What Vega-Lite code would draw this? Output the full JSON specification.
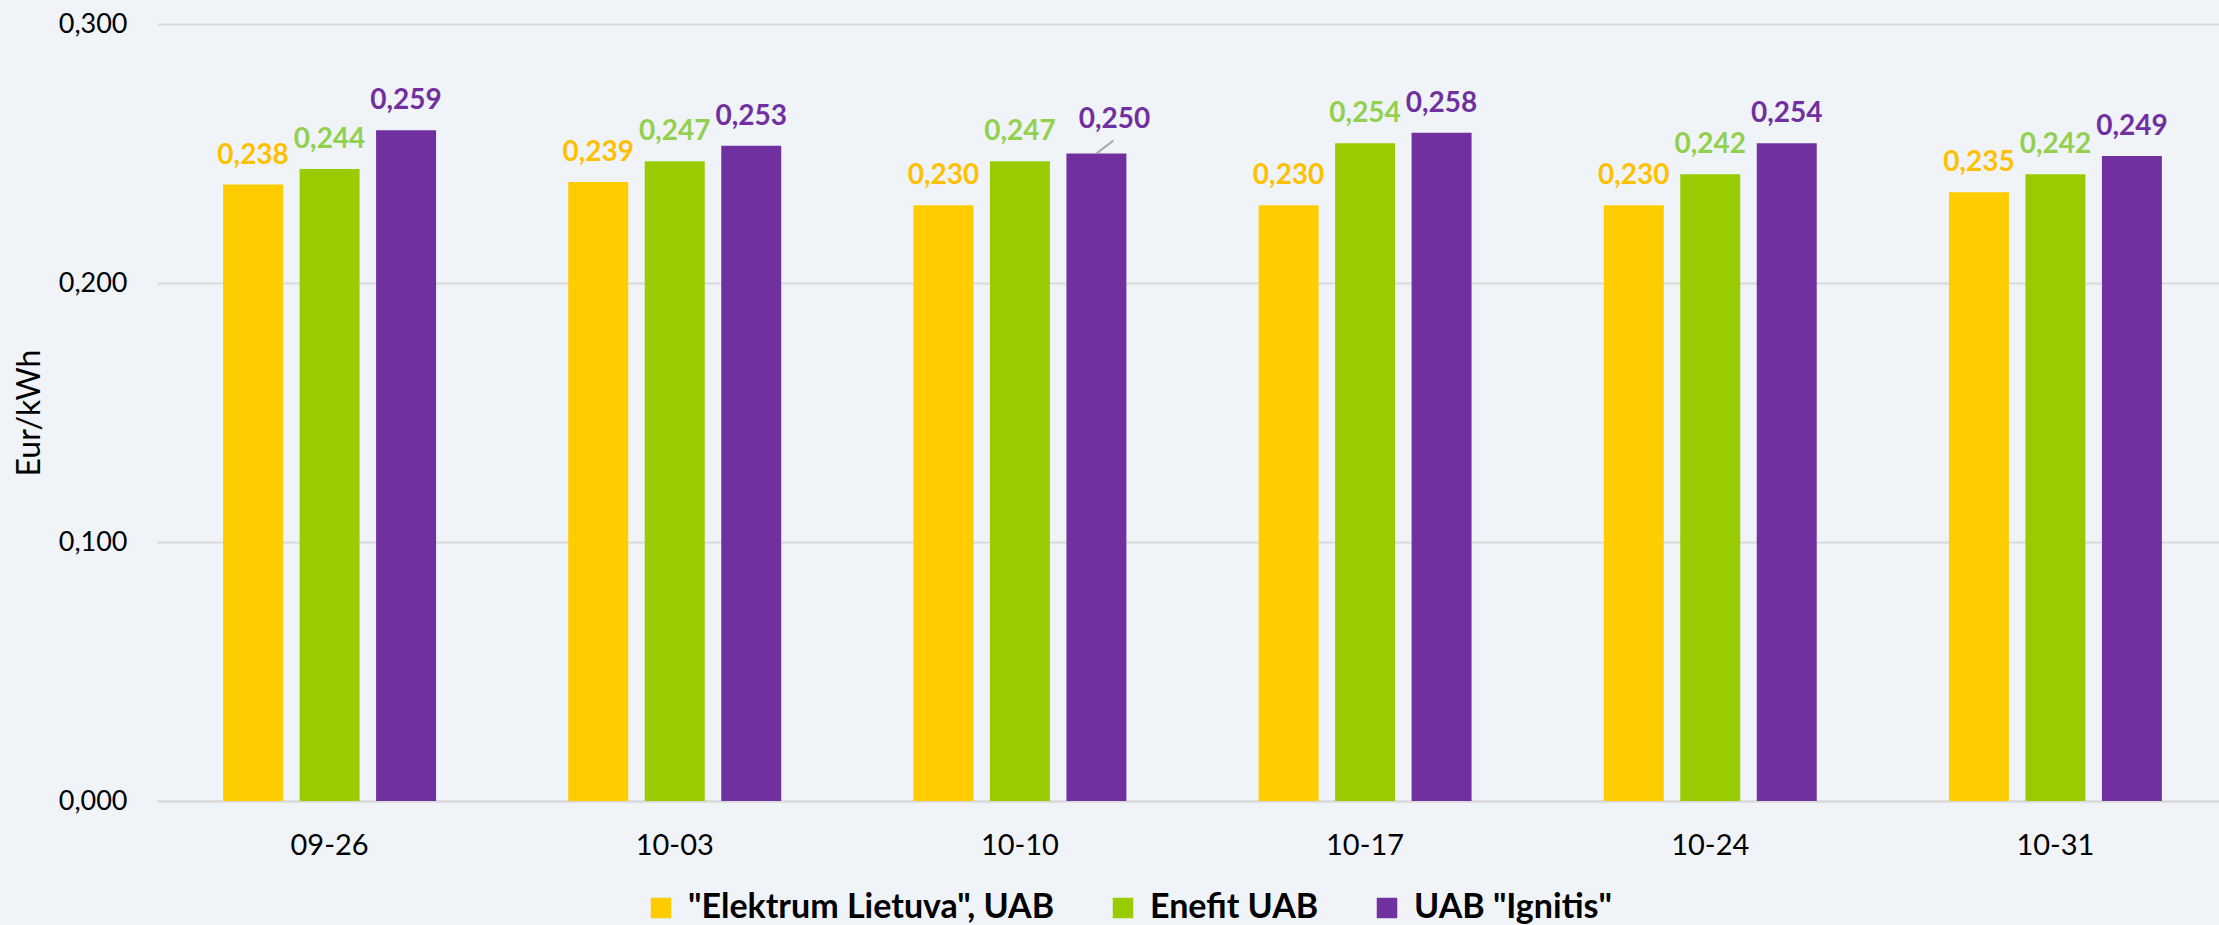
{
  "$schema": "https://vega.github.io/schema/vega-lite/v6.json",
  "width": 2062,
  "height": 777,
  "autosize": {"type": "none"},
  "padding": {"left": 157, "top": 24, "right": 0, "bottom": 124},
  "background": "#F0F4F8",
  "config": {
    "locale": {"number": {"decimal": ",", "thousands": " ", "grouping": [3], "currency": ["", " €"]}},
    "font": "Lato",
    "view": {"stroke": null}
  },
  "data": {
    "values": [
      {"date": "09-26", "company": "\"Elektrum Lietuva\", UAB", "price": 0.238},
      {"date": "09-26", "company": "Enefit UAB", "price": 0.244},
      {"date": "09-26", "company": "UAB \"Ignitis\"", "price": 0.259},
      {"date": "10-03", "company": "\"Elektrum Lietuva\", UAB", "price": 0.239},
      {"date": "10-03", "company": "Enefit UAB", "price": 0.247},
      {"date": "10-03", "company": "UAB \"Ignitis\"", "price": 0.253},
      {"date": "10-10", "company": "\"Elektrum Lietuva\", UAB", "price": 0.230},
      {"date": "10-10", "company": "Enefit UAB", "price": 0.247},
      {"date": "10-10", "company": "UAB \"Ignitis\"", "price": 0.250},
      {"date": "10-17", "company": "\"Elektrum Lietuva\", UAB", "price": 0.230},
      {"date": "10-17", "company": "Enefit UAB", "price": 0.254},
      {"date": "10-17", "company": "UAB \"Ignitis\"", "price": 0.258},
      {"date": "10-24", "company": "\"Elektrum Lietuva\", UAB", "price": 0.230},
      {"date": "10-24", "company": "Enefit UAB", "price": 0.242},
      {"date": "10-24", "company": "UAB \"Ignitis\"", "price": 0.254},
      {"date": "10-31", "company": "\"Elektrum Lietuva\", UAB", "price": 0.235},
      {"date": "10-31", "company": "Enefit UAB", "price": 0.242},
      {"date": "10-31", "company": "UAB \"Ignitis\"", "price": 0.249}
    ]
  },
  "encoding": {
    "x": {
      "field": "date",
      "type": "nominal",
      "sort": null,
      "scale": {"range": [0, 2071], "paddingInner": 0.383, "paddingOuter": 0.1915},
      "axis": {
        "title": null,
        "labelAngle": 0,
        "labelFontSize": 29,
        "labelColor": "#000000",
        "labelPadding": 30,
        "ticks": false,
        "tickSize": 0,
        "domainColor": "#D9D9D9",
        "domainWidth": 2,
        "grid": false
      }
    },
    "xOffset": {
      "field": "company",
      "type": "nominal",
      "sort": ["\"Elektrum Lietuva\", UAB", "Enefit UAB", "UAB \"Ignitis\""],
      "scale": {"paddingInner": 0.216, "paddingOuter": 0}
    },
    "y": {
      "field": "price",
      "type": "quantitative",
      "scale": {"domain": [0, 0.3], "nice": false},
      "axis": {
        "title": "Eur/kWh",
        "titleFontSize": 32,
        "titleFontWeight": "normal",
        "titleColor": "#000000",
        "titlePadding": 12,
        "labelFontSize": 27,
        "labelColor": "#000000",
        "labelPadding": 30,
        "ticks": false,
        "tickSize": 0,
        "domain": false,
        "gridColor": "#D9D9D9",
        "gridWidth": 2,
        "values": [0, 0.1, 0.2, 0.3],
        "format": ".3f"
      }
    }
  },
  "layer": [
    {
      "mark": {"type": "bar"},
      "encoding": {
        "color": {
          "field": "company",
          "type": "nominal",
          "scale": {
            "domain": ["\"Elektrum Lietuva\", UAB", "Enefit UAB", "UAB \"Ignitis\""],
            "range": ["#FFCC00", "#99CC00", "#7030A0"]
          },
          "legend": {
            "title": null,
            "orient": "none",
            "legendX": 487,
            "legendY": 867,
            "direction": "horizontal",
            "labelFontSize": 34,
            "labelFontWeight": "bold",
            "labelColor": "#000000",
            "labelLimit": 0,
            "symbolType": "square",
            "symbolSize": 420,
            "symbolStrokeWidth": 0,
            "labelOffset": 10,
            "columnPadding": 51,
            "padding": 0
          }
        }
      }
    },
    {
      "transform": [{"filter": "!(datum.date == '10-10' && datum.company == 'UAB \"Ignitis\"')"}],
      "mark": {"type": "text", "fontWeight": "bold", "fontSize": 28, "baseline": "alphabetic", "dy": -21},
      "encoding": {
        "text": {"field": "price", "type": "quantitative", "format": ".3f"},
        "color": {
          "field": "company",
          "type": "nominal",
          "scale": {
            "domain": ["\"Elektrum Lietuva\", UAB", "Enefit UAB", "UAB \"Ignitis\""],
            "range": ["#FFC000", "#92D050", "#7030A0"]
          },
          "legend": null
        }
      }
    },
    {
      "transform": [{"filter": "datum.date == '10-10' && datum.company == 'UAB \"Ignitis\"'"}],
      "mark": {"type": "rule", "color": "#A6A6A6", "strokeWidth": 2, "x2Offset": 93.5, "y2Offset": -13},
      "encoding": {
        "x2": {"field": "date"},
        "y2": {"field": "price"}
      }
    },
    {
      "transform": [{"filter": "datum.date == '10-10' && datum.company == 'UAB \"Ignitis\"'"}],
      "mark": {"type": "text", "fontWeight": "bold", "fontSize": 28, "baseline": "alphabetic", "dx": 18, "dy": -26, "color": "#7030A0"},
      "encoding": {
        "text": {"field": "price", "type": "quantitative", "format": ".3f"}
      }
    }
  ],
  "resolve": {"scale": {"color": "independent"}}
}
